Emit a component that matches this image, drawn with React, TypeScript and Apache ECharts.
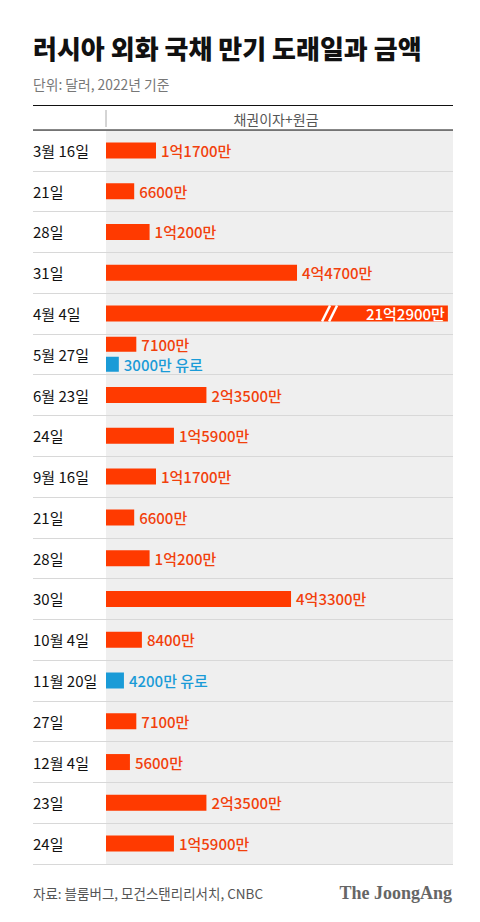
import React, { useEffect, useRef } from "react";
import * as echarts from "echarts";

const TITLE = "러시아 외화 국채 만기 도래일과 금액";
const SUBTITLE = "단위: 달러, 2022년 기준";
const HEADER = "채권이자+원금";
const SOURCE = "자료: 블룸버그, 모건스탠리리서치, CNBC";
const BRAND = "The JoongAng";

const dates = [
  "3월 16일", "21일", "28일", "31일", "4월 4일", "5월 27일", "6월 23일", "24일",
  "9월 16일", "21일", "28일", "30일", "10월 4일", "11월 20일", "27일", "12월 4일", "23일", "24일",
];
// 단위: 만 달러
const usdValues: (number | null)[] = [
  11700, 6600, 10200, 44700, 212900, 7100, 23500, 15900,
  11700, 6600, 10200, 43300, 8400, null, 7100, 5600, 23500, 15900,
];
// 단위: 만 유로
const eurValues: (number | null)[] = [
  null, null, null, null, null, 3000, null, null,
  null, null, null, null, null, 4200, null, null, null, null,
];

const X_MAX = 81200;
const CAP = 80000; // bars longer than this are drawn broken
const BREAK_AT = 51500;

const FONT = '"Noto Sans CJK KR", "Noto Sans", sans-serif';
const RED = "#ff3a00";
const RED_TEXT = "#f2400c";
const BLUE = "#1a9bd7";

const fmt = (v: number) => {
  const eok = Math.floor(v / 10000);
  const man = v % 10000;
  return (eok > 0 ? eok + "억" : "") + (man > 0 ? man + "만" : "");
};

const cats = dates.map((_, i) => String(i));
const isPair = (i: number) => usdValues[i] != null && eurValues[i] != null;

const singleUsd = usdValues.map((v, i) => {
  if (v == null || isPair(i)) return null;
  if (v > CAP) {
    return {
      value: CAP,
      label: { position: "insideRight", color: "#fff", distance: 3 },
    };
  }
  return v;
});
const singleEur = eurValues.map((v, i) => (v == null || isPair(i) ? null : v));
const pairUsd = usdValues.map((v, i) => (isPair(i) ? v : null));
const pairEur = eurValues.map((v, i) => (isPair(i) ? v : null));
const breaks = usdValues
  .map((v, i) => (v != null && v > CAP ? [BREAK_AT, i] : null))
  .filter((d) => d != null);

const usdLabel = (color: string) => ({
  show: true,
  position: "right",
  distance: 5,
  color,
  fontSize: 15,
  fontWeight: 500,
  fontFamily: FONT,
  formatter: (p: any) => fmt(usdValues[p.dataIndex] as number),
});
const eurLabel = {
  show: true,
  position: "right",
  distance: 5,
  color: BLUE,
  fontSize: 15,
  fontWeight: 500,
  fontFamily: FONT,
  formatter: (p: any) => fmt(eurValues[p.dataIndex] as number) + " 유로",
};

const option: any = {
  animation: false,
  backgroundColor: "#fff",
  grid: {
    left: 106,
    right: 27,
    top: 130,
    bottom: 58,
    show: true,
    backgroundColor: "#efefef",
    borderWidth: 0,
  },
  xAxis: { type: "value", min: 0, max: X_MAX, show: false },
  yAxis: [
    {
      type: "category",
      data: cats,
      inverse: true,
      axisLine: { show: false },
      axisTick: { show: true, interval: 0, length: 73, lineStyle: { color: "#d8d8d8" } },
      splitLine: { show: true, interval: 0, lineStyle: { color: "#d8d8d8" } },
      axisLabel: {
        interval: 0,
        align: "left",
        margin: 73,
        fontSize: 15,
        fontWeight: "normal",
        color: "#111",
        fontFamily: FONT,
        formatter: (_: string, i: number) => dates[i],
      },
    },
    { type: "category", data: cats, inverse: true, show: false },
  ],
  graphic: [
    {
      type: "text", x: 33, y: 47, z: 100,
      style: { text: TITLE, fontSize: 26, fontWeight: 900, fill: "#111", fontFamily: FONT, verticalAlign: "middle" },
    },
    {
      type: "text", x: 33, y: 83.5, z: 100,
      style: { text: SUBTITLE, fontSize: 13.8, fill: "#777", fontFamily: FONT, verticalAlign: "middle" },
    },
    { type: "line", z: 100, shape: { x1: 33, y1: 105.5, x2: 453, y2: 105.5 }, style: { stroke: "#111", lineWidth: 1.2 } },
    { type: "line", z: 100, shape: { x1: 33, y1: 130, x2: 453, y2: 130 }, style: { stroke: "#111", lineWidth: 1.2 } },
    { type: "line", z: 100, shape: { x1: 106, y1: 110, x2: 106, y2: 127 }, style: { stroke: "#aaa", lineWidth: 1 } },
    {
      type: "text", x: 276, y: 118.5, z: 100,
      style: { text: HEADER, fontSize: 14, fill: "#555", fontFamily: FONT, align: "center", verticalAlign: "middle" },
    },
    {
      type: "text", x: 33, y: 893, z: 100,
      style: { text: SOURCE, fontSize: 13.5, fill: "#555", fontFamily: FONT, verticalAlign: "middle" },
    },
    {
      type: "text", x: 452, y: 893, z: 100,
      style: {
        text: BRAND, fontSize: 18, fontWeight: "bold", fill: "#666",
        fontFamily: '"Liberation Serif", "DejaVu Serif", serif', align: "right", verticalAlign: "middle",
      },
    },
  ],
  series: [
    {
      type: "bar", yAxisIndex: 0, data: singleUsd, barWidth: 16,
      itemStyle: { color: RED }, label: usdLabel(RED_TEXT),
    },
    {
      type: "bar", yAxisIndex: 0, data: singleEur, barWidth: 16, barGap: "-100%",
      itemStyle: { color: BLUE }, label: eurLabel,
    },
    {
      type: "bar", yAxisIndex: 1, data: pairUsd, barWidth: 15,
      itemStyle: { color: RED }, label: usdLabel(RED_TEXT),
    },
    {
      type: "bar", yAxisIndex: 1, data: pairEur, barWidth: 15, barGap: "33%",
      itemStyle: { color: BLUE }, label: eurLabel,
    },
    {
      type: "custom", xAxisIndex: 0, yAxisIndex: 0, z: 10, silent: true,
      encode: { x: 0, y: 1 },
      data: breaks,
      renderItem: (_params: any, api: any) => {
        const p = api.coord([api.value(0), api.value(1)]);
        const mk = (off: number) => ({
          type: "line",
          shape: { x1: p[0] - 4 + off, y1: p[1] + 8, x2: p[0] + 4 + off, y2: p[1] - 8 },
          style: { stroke: "#fff", lineWidth: 2.5 },
        });
        return { type: "group", children: [mk(0), mk(7)] };
      },
    },
  ],
};

export default function App() {
  const ref = useRef<HTMLDivElement>(null);
  useEffect(() => {
    const chart = echarts.init(ref.current as HTMLDivElement, null, { renderer: "svg" });
    chart.setOption(option);
    return () => chart.dispose();
  }, []);
  return (
    <div
      ref={ref}
      style={{ position: "fixed", left: 0, top: 0, width: 480, height: 922, background: "#fff" }}
    />
  );
}
